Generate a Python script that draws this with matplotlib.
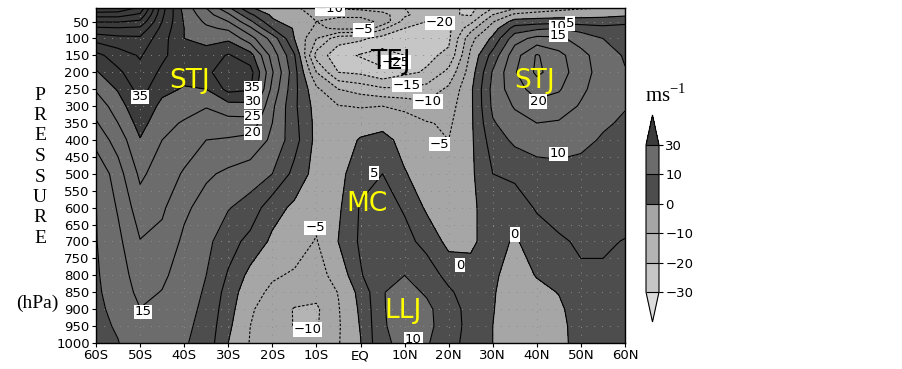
import numpy as np
import matplotlib
matplotlib.use("Agg")
import matplotlib.pyplot as plt
from matplotlib.colors import ListedColormap, BoundaryNorm

# ---------------- data ----------------
lats = [-60, -55, -50, -45, -40, -35, -30, -25, -20, -15, -10, -5, 0,
        5, 10, 15, 20, 25, 30, 35, 40, 45, 50, 55, 60]
plev = [10, 30, 50, 70, 100, 150, 200, 250, 300, 350, 400, 500, 600,
        700, 800, 850, 900, 950, 1000]

u_10 = [70, 69, 64, 42, 28, 20, 11, 0.5, -2.5, -4.3, -7, -10.5, -11.5, -13, -15, -17, -18.5, -21.5, -15, -10.5, -8, -6.5, -5.5, -5, -3.5]
u_30 = [62, 62, 59, 41, 29, 22, 16, 6, -1, -4, -5.5, -6, -6, -8, -14, -18, -19.5, -20.5, -10, -4, -3, -2.5, -2, -1.5, -0.8]
u_50 = [55.5, 55.5, 54, 40, 29.5, 24, 20, 11, 1, -2.5, -5, -3.5, -3.5, -6, -17, -20, -21, -16.5, -5.5, 2, 2.5, 3, 2.5, 2.5, 3.5]
u_70 = [49, 49.5, 49, 38.5, 30, 26, 24, 16, 5, -0.5, -6, -4, -4, -14, -20, -21, -21, -12, -2.5, 7, 9, 10, 8, 6.5, 7]
u_100 = [42, 43.5, 44, 37, 30, 28.5, 29, 22, 13, 0, -10, -18, -19, -22, -22, -21, -21, -6.5, 1, 13, 16.5, 16, 13, 10, 8.5]
u_150 = [33.5, 37.5, 40.5, 36, 32, 32, 35.5, 32, 18, 5.5, -17, -23, -25.5, -27, -25, -21, -19, -4, 7, 18, 25.5, 21.5, 16.5, 12.5, 9.5]
u_200 = [29.5, 34, 38.5, 34, 32, 33.5, 39, 37, 20.5, 7, -10, -20, -21, -24, -21, -19.5, -13.5, -2.5, 10.5, 19.5, 26, 22.5, 17, 13, 10.3]
u_250 = [25.5, 30.5, 37, 31.5, 29.5, 30, 36.5, 35.5, 18.5, 6.5, -4, -10, -12, -14, -14.5, -13, -9, -1, 11.5, 18, 22, 20.5, 16, 12.5, 10.6]
u_300 = [22, 27.5, 34.5, 28.5, 27, 25.3, 28, 28.5, 16, 6, -2, -4.8, -5.3, -5, -6, -8.7, -7, -1, 11, 15.5, 18.5, 17.5, 14.5, 11.5, 10.2]
u_350 = [19.5, 25, 32, 26.5, 24.5, 22.5, 23, 23, 15, 6.5, -1.5, -3.8, -2.5, -1.5, -3, -4.6, -5.8, -1, 9.5, 13, 15, 14.5, 12.5, 10.5, 9.5]
u_400 = [17, 22, 29.7, 25, 22.5, 20, 19.5, 18.5, 14, 7, -1.5, -3, 0.5, 1.5, -1.5, -3.5, -5, -1, 7.5, 11, 12, 12, 11, 9.6, 8.8]
u_500 = [10.3, 18, 26, 22.5, 19.5, 15.8, 14, 12.5, 10, 3.5, -2, -1.5, 3, 5, 0.3, -2, -4, -1, 5, 6, 8, 8.5, 8.5, 8, 7.5]
u_600 = [9.9, 15.5, 22.8, 20.8, 16, 13, 10.3, 8, 2, -1, -3.5, -0.8, 5.5, 7, 4.5, -0.8, -2.5, -1.2, 3, 2.5, 5.5, 6.5, 7, 6.5, 6]
u_700 = [9.8, 13.8, 19.8, 18.5, 14, 11.3, 7, 3.5, -1, -3, -5.3, 0.1, 5.8, 8.5, 6.5, 3.5, -1.5, -0.8, 2, -0.6, 2.5, 4.5, 5.5, 5.3, 4.9]
u_800 = [9.5, 12.5, 17.5, 16, 12.5, 10, 4.5, -1.5, -4.5, -5.5, -6.5, -3.5, 4.5, 9.5, 10, 7.5, 3.5, 1.5, 1, -2.5, 0.3, 2, 4.5, 4.7, 4.5]
u_850 = [9.3, 12, 16.3, 14.8, 12, 9.5, 3, -3.5, -5.8, -7.5, -8.5, -4.8, 1.5, 9.8, 11.5, 9.5, 5.8, 2.5, 0.5, -3, -1.5, 0.2, 3.5, 4.2, 4.2]
u_900 = [9, 11.3, 14.9, 14, 11.5, 9, 2, -4.5, -7, -10.3, -10.8, -5.3, 0.8, 9.6, 12.5, 11, 7.5, 3, 0.3, -3.5, -2, -1, 2.8, 3.8, 4]
u_950 = [8.5, 10.6, 14.2, 13.5, 11, 8.5, 1, -5, -7.5, -10.2, -10.5, -5.5, 0.3, 9.5, 12, 11, 8, 3, 0, -3.5, -2.5, -1.5, 2.3, 3.5, 3.8]
u_1000 = [8, 9.8, 13.5, 13, 10.5, 8, 0, -5.3, -7, -7.5, -8.5, -5.3, -0.2, 9.3, 11, 10.4, 7.5, 2.5, 0, -3, -2.5, -1.5, 2, 3, 3.5]

shade_levels = [-30, -20, -10, 0, 10, 30]
line_levels = list(range(-30, 75, 5))

xtick_vals = [-60, -50, -40, -30, -20, -10, 0, 10, 20, 30, 40, 50, 60]
xtick_labels = ["60S", "50S", "40S", "30S", "20S", "10S", "EQ",
                "10N", "20N", "30N", "40N", "50N", "60N"]
ytick_vals = list(range(50, 1001, 50))

# contour labels: text, lat, pressure
lab_text = ["35", "35", "30", "25", "20", "15", "-10", "-5", "-20", "-25",
            "-15", "-10", "-5", "-5", "-10", "5", "0", "0", "10",
            "10", "15", "5", "20", "10"]
lab_lat = [-50, -24.4, -24.4, -24.4, -24.4, -49.3, -6.9, 0.6, 18, 8.0,
           10.5, 15.3, 18, -10.3, -12, 3, 22.6, 35, 12,
           44.9, 44.9, 47.5, 40.3, 44.9]
lab_p = [273, 246, 287, 332, 379, 908, 12, 75, 54, 170,
         238, 287, 412, 660, 960, 498, 770, 680, 990,
         66, 90, 55, 287, 441]

# feature annotations
feat_text = ["STJ", "STJ", "TEJ", "MC", "LLJ"]
feat_lat = [-38.7, 39.6, 6.7, 1.5, 9.6]
feat_p = [225, 225, 170, 590, 905]
feat_color = ["#ffff00", "#ffff00", "black", "#ffff00", "#ffff00"]

# ---------------- figure ----------------
U = np.array([u_10, u_30, u_50, u_70, u_100, u_150, u_200, u_250, u_300,
              u_350, u_400, u_500, u_600, u_700, u_800, u_850, u_900,
              u_950, u_1000], dtype=float)
LAT, P = np.meshgrid(lats, plev)

plt.rcParams['contour.negative_linestyle'] = 'dashed'
plt.rcParams['lines.dashed_pattern'] = [2.2, 1.6]

fig = plt.figure(figsize=(9.03, 3.69), dpi=100)
ax = fig.add_axes([96/903, 1-343/369, (625-96)/903, (343-8)/369])

fill_cols = ["#c6c6c6", "#b4b4b4", "#a6a6a6", "#4d4d4d", "#6c6c6c"]
cmap = ListedColormap(fill_cols)
cmap.set_under("#dcdcdc")
cmap.set_over("#3b3b3b")
norm = BoundaryNorm(shade_levels, cmap.N)

cf = ax.contourf(LAT, P, U, levels=shade_levels, cmap=cmap, norm=norm, extend='both')
cs = ax.contour(LAT, P, U, levels=line_levels, colors='k', linewidths=0.8)

ax.set_xlim(-60, 60)
ax.set_ylim(1000, 10)
ax.set_xticks(xtick_vals)
ax.set_xticklabels(xtick_labels, fontsize=9.5)
ax.set_yticks(ytick_vals)
ax.set_yticklabels([str(v) for v in ytick_vals], fontsize=9.5)
ax.tick_params(direction='out', length=3, width=0.8, pad=1.5)
ax.grid(True, color='#8c8c8c', linestyle=(0, (1, 7)), linewidth=0.7)
for s in ax.spines.values():
    s.set_linewidth(1.0)

for t, la, pp in zip(lab_text, lab_lat, lab_p):
    ax.text(la, pp, t.replace('-', '\u2212'), fontsize=9.5, ha='center', va='center',
            bbox=dict(facecolor='white', edgecolor='none', pad=0.6), zorder=5, clip_on=True)

for t, la, pp, c in zip(feat_text, feat_lat, feat_p, feat_color):
    ax.text(la, pp, t, fontsize=19, color=c, ha='center', va='center', zorder=6)

# y-axis title: vertical letters
word = "PRESSURE"
for i, ch in enumerate(word):
    fig.text(40/903, 1 - (95 + i*20.5)/369, ch, fontsize=14, family='Liberation Serif',
             ha='center', va='center')
fig.text(37/903, 1 - 303/369, "(hPa)", fontsize=14, family='Liberation Serif',
         ha='center', va='center')

# colorbar
cax = fig.add_axes([646/903, 1-322/369, 13/903, 207/369])
cb = fig.colorbar(cf, cax=cax, extend='both', extendfrac=0.204, spacing='uniform',
                  drawedges=True)
cb.set_ticks(shade_levels)
cb.set_ticklabels([str(v).replace('-', '\u2212') for v in shade_levels])
cb.ax.tick_params(labelsize=9.5, length=3, direction='out', pad=1.5)
cb.outline.set_linewidth(0.8)
cb.dividers.set_linewidth(0.8)
fig.text(666/903, 1-95/369, "ms$^{\\mathregular{-1}}$", fontsize=15, family='Liberation Serif',
         ha='center', va='center')

fig.savefig("out.png", dpi=100)
